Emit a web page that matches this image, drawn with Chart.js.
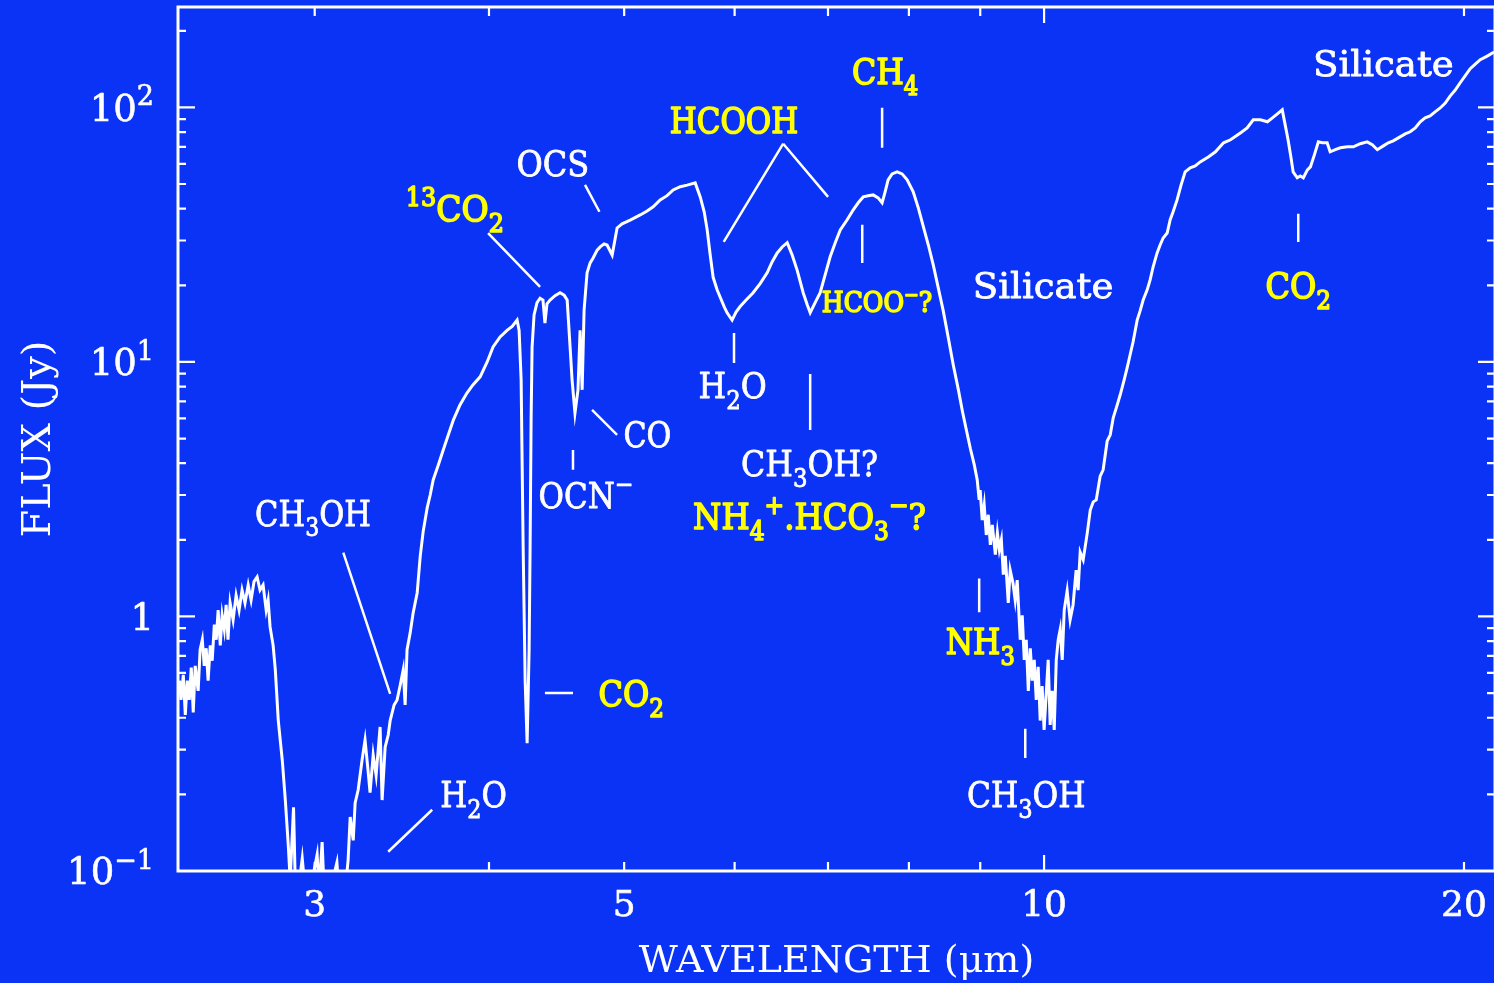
<!DOCTYPE html>
<html>
<head>
<meta charset="utf-8">
<script src="https://cdn.jsdelivr.net/npm/chart.js@4.4.0/dist/chart.umd.min.js"></script>
<style>
  html, body { margin: 0; padding: 0; background: #0b33f5; overflow: hidden; }
  #wrap { width: 1500px; height: 983px; }
</style>
</head>
<body>
<div id="wrap"><canvas id="spec" width="1500" height="983"></canvas></div>
<script>
// ── spectrum (wavelength in micron, flux in Jy) ──
const wavelength = [
  2.400, 2.406, 2.415, 2.423, 2.431, 2.439, 2.447, 2.455, 2.463, 2.475, 2.483, 2.492, 2.500, 2.508, 2.516,
  2.525, 2.533, 2.542, 2.550, 2.558, 2.567, 2.575, 2.584, 2.592, 2.600, 2.609, 2.622, 2.635, 2.648, 2.661,
  2.674, 2.688, 2.701, 2.714, 2.728, 2.741, 2.755, 2.769, 2.778, 2.787, 2.801, 2.811, 2.825, 2.844, 2.858,
  2.872, 2.881, 2.897, 2.905, 2.920, 2.939, 2.953, 2.978, 3.012, 3.022, 3.037, 3.047, 3.078, 3.112, 3.122,
  3.155, 3.170, 3.181, 3.197, 3.207, 3.223, 3.244, 3.260, 3.276, 3.287, 3.304, 3.320, 3.342, 3.353, 3.370,
  3.387, 3.398, 3.420, 3.437, 3.455, 3.472, 3.483, 3.494, 3.512, 3.529, 3.553, 3.571, 3.588, 3.612, 3.630,
  3.648, 3.679, 3.709, 3.740, 3.772, 3.813, 3.857, 3.895, 3.942, 3.988, 4.027, 4.074, 4.121, 4.156, 4.190,
  4.204, 4.218, 4.232, 4.246, 4.260, 4.274, 4.281, 4.288, 4.295, 4.309, 4.330, 4.352, 4.373, 4.387, 4.402,
  4.424, 4.461, 4.498, 4.528, 4.551, 4.573, 4.588, 4.610, 4.633, 4.649, 4.665, 4.680, 4.703, 4.727, 4.750,
  4.782, 4.806, 4.837, 4.861, 4.902, 4.942, 4.983, 5.050, 5.134, 5.193, 5.245, 5.306, 5.367, 5.421, 5.485,
  5.548, 5.622, 5.669, 5.706, 5.734, 5.763, 5.791, 5.829, 5.858, 5.897, 5.926, 5.975, 6.014, 6.055, 6.115,
  6.186, 6.258, 6.331, 6.383, 6.437, 6.490, 6.544, 6.598, 6.653, 6.719, 6.763, 6.797, 6.853, 6.910, 6.967,
  7.025, 7.084, 7.143, 7.225, 7.298, 7.358, 7.419, 7.480, 7.542, 7.604, 7.654, 7.692, 7.730, 7.781, 7.846,
  7.911, 7.977, 8.057, 8.125, 8.193, 8.261, 8.329, 8.398, 8.466, 8.536, 8.608, 8.681, 8.738, 8.796, 8.854,
  8.912, 8.955, 8.984, 8.999, 9.029, 9.059, 9.090, 9.120, 9.151, 9.181, 9.227, 9.258, 9.288, 9.319, 9.349,
  9.380, 9.426, 9.456, 9.500, 9.534, 9.566, 9.614, 9.646, 9.678, 9.710, 9.743, 9.775, 9.807, 9.839, 9.871,
  9.903, 9.936, 9.968, 10.000, 10.034, 10.068, 10.101, 10.135, 10.169, 10.203, 10.236, 10.270, 10.304, 10.338, 10.388,
  10.439, 10.490, 10.543, 10.578, 10.614, 10.667, 10.739, 10.792, 10.845, 10.899, 10.970, 11.024, 11.098, 11.154, 11.209,
  11.283, 11.339, 11.413, 11.469, 11.525, 11.583, 11.661, 11.719, 11.777, 11.855, 11.913, 11.971, 12.051, 12.111, 12.172,
  12.253, 12.314, 12.374, 12.455, 12.538, 12.622, 12.728, 12.833, 12.939, 13.114, 13.269, 13.448, 13.604, 13.827, 13.982,
  14.124, 14.291, 14.458, 14.578, 14.697, 14.816, 14.888, 14.959, 15.033, 15.085, 15.187, 15.264, 15.341, 15.444, 15.521,
  15.623, 15.726, 15.828, 15.956, 16.035, 16.172, 16.308, 16.499, 16.662, 16.853, 17.046, 17.190, 17.334, 17.507, 17.651,
  17.795, 17.997, 18.149, 18.300, 18.454, 18.606, 18.758, 18.911, 19.068, 19.229, 19.390, 19.552, 19.713, 19.874, 20.037,
  20.206, 20.375, 20.544, 20.780, 21.020
];
const flux = [
  0.56, 0.47, 0.59, 0.41, 0.56, 0.47, 0.63, 0.42, 0.64, 0.51, 0.74, 0.81, 0.64, 0.75, 0.56,
  0.77, 0.67, 0.93, 0.81, 1.06, 0.77, 1.01, 0.89, 1.11, 0.81, 1.13, 0.97, 1.21, 1.06, 1.27,
  1.13, 1.33, 1.16, 1.37, 1.43, 1.27, 1.33, 1.06, 1.16, 0.91, 0.77, 0.62, 0.39, 0.27, 0.19,
  0.126, 0.092, 0.178, 0.092, 0.084, 0.112, 0.084, 0.084, 0.116, 0.084, 0.130, 0.084, 0.084, 0.108, 0.084,
  0.084, 0.110, 0.163, 0.132, 0.185, 0.208, 0.273, 0.327, 0.249, 0.203, 0.286, 0.238, 0.368, 0.19, 0.307,
  0.342, 0.39, 0.449, 0.47, 0.538, 0.617, 0.449, 0.74, 0.862, 1.03, 1.24, 1.73, 2.15, 2.67, 3.0,
  3.44, 3.94, 4.51, 5.16, 5.92, 6.78, 7.55, 8.12, 8.74, 10.0, 11.46, 12.54, 13.3, 13.8, 14.6,
  13.3, 8.5, 1.88, 0.56, 0.318, 0.74, 1.88, 5.92, 11.46, 15.3, 17.1, 17.8, 17.5, 14.2, 16.9,
  17.5, 18.2, 18.7, 18.3, 17.5, 11.46, 8.5, 6.3, 7.77, 13.3, 7.77, 16.0, 22.4, 24.5, 25.6,
  27.5, 28.3, 29.1, 28.8, 26.3, 33.6, 34.9, 36.1, 37.8, 39.2, 40.7, 43.3, 45.0, 47.4, 48.8,
  49.5, 50.5, 44.5, 38.9, 33.1, 26.3, 21.5, 19.2, 18.0, 16.5, 15.6, 14.6, 15.7, 16.5, 17.5,
  18.7, 20.3, 22.4, 24.7, 26.8, 28.3, 29.4, 26.3, 22.9, 18.7, 16.8, 15.6, 17.1, 18.7, 22.0,
  25.9, 29.4, 33.0, 36.2, 39.6, 42.2, 44.5, 45.0, 45.3, 44.1, 42.2, 46.6, 51.9, 54.8, 55.8,
  54.8, 51.9, 46.6, 40.3, 34.0, 28.8, 24.0, 19.5, 15.9, 12.5, 9.73, 7.77, 6.42, 5.40, 4.57,
  3.94, 3.44, 2.87, 3.14, 2.39, 2.74, 2.09, 2.51, 1.91, 2.29, 1.75, 2.13, 1.83, 2.00, 1.46,
  1.73, 1.13, 1.52, 1.35, 1.16, 1.39, 0.81, 1.01, 0.675, 0.81, 0.51, 0.75, 0.56, 0.675, 0.47,
  0.634, 0.39, 0.533, 0.358, 0.49, 0.675, 0.375, 0.51, 0.358, 0.675, 0.81, 0.89, 0.675, 1.06, 1.26,
  0.97, 1.11, 1.52, 1.27, 1.79, 1.67, 2.13, 2.62, 2.82, 2.87, 3.56, 3.77, 4.89, 5.17, 6.03,
  6.78, 7.43, 8.50, 9.48, 10.65, 12.0, 14.6, 15.9, 17.5, 19.2, 21.0, 23.6, 26.8, 28.8, 30.7,
  32.1, 36.2, 38.9, 43.3, 49.6, 55.8, 57.9, 58.9, 61.1, 63.9, 66.9, 72.6, 74.6, 79.4, 83.0,
  89.4, 89.4, 87.8, 91.0, 94.3, 97.8, 85.4, 74.6, 63.3, 55.8, 52.9, 53.8, 52.9, 56.8, 58.4,
  65.1, 73.2, 72.6, 72.6, 66.9, 68.2, 69.4, 70.0, 70.0, 72.0, 73.2, 71.3, 68.2, 70.6, 72.6,
  73.9, 76.6, 78.7, 80.2, 83.0, 87.8, 91.0, 92.6, 96.0, 99.5, 104, 111, 117, 125, 133,
  142, 148, 154, 159, 165
];

// axis ticks
const xTickValues = [3, 4, 5, 6, 7, 8, 9, 10, 20];
const xTickLabels = [3, 5, 10, 20];
const yDecadeLabels = ['10^{−1}', '1', '10^{1}', '10^{2}'];   // 0.1, 1, 10, 100

// feature labels: text (_{sub} ^{sup}), wavelength, flux, colour key, size, squeeze
const featureLabels = [
  ['Silicate', 17.51, 149, 'w', 36, 1.03],
  ['CH_{4}', 7.693, 139, 'y', 36, 0.88],
  ['HCOOH', 5.994, 89.4, 'y', 36, 0.86],
  ['OCS', 4.445, 60.5, 'w', 36, 0.89],
  ['^{13}CO_{2}', 3.781, 40.3, 'y', 36, 0.92],
  ['Silicate', 9.984, 20, 'w', 36, 1.03],
  ['CO_{2}', 15.21, 20, 'y', 36, 0.89],
  ['HCOO^{−}?', 7.59, 17.1, 'y', 27, 0.93],
  ['H_{2}O', 5.98, 8.12, 'w', 36, 0.88],
  ['CO', 5.195, 5.21, 'w', 36, 0.84],
  ['CH_{3}OH?', 6.79, 4.0, 'w', 36, 0.88],
  ['OCN^{−}', 4.695, 3.0, 'w', 36, 0.86],
  ['NH_{4}^{+}.HCO_{3}^{−}?', 6.79, 2.48, 'y', 36, 0.9],
  ['CH_{3}OH', 2.992, 2.56, 'w', 36, 0.85],
  ['NH_{3}', 9.0, 0.8, 'y', 36, 0.87],
  ['CO_{2}', 5.058, 0.5, 'y', 36, 0.89],
  ['H_{2}O', 3.90, 0.2, 'w', 36, 0.86],
  ['CH_{3}OH', 9.71, 0.2, 'w', 36, 0.87]
];

// leader lines: wavelength1, flux1, wavelength2, flux2
const leaders = [
  [3.994, 32.1, 4.352, 19.7],
  [4.687, 49.6, 4.800, 38.9],
  [5.893, 29.6, 6.501, 72.0],
  [6.501, 72.0, 7.001, 44.5],
  [7.654, 99.6, 7.654, 69.4],
  [7.407, 34.6, 7.407, 24.5],
  [5.994, 13.0, 5.994, 9.9],
  [6.797, 8.97, 6.797, 5.40],
  [4.742, 6.48, 4.942, 5.17],
  [4.595, 4.51, 4.595, 3.77],
  [4.387, 0.5, 4.595, 0.5],
  [3.145, 1.78, 3.398, 0.496],
  [3.387, 0.119, 3.642, 0.174],
  [8.984, 1.41, 8.984, 1.04],
  [9.694, 0.362, 9.694, 0.278],
  [15.213, 38.2, 15.213, 29.6]
];

const FG = '#ffffff', YEL = '#ffff00';
const FONT = '"DejaVu Serif", "Liberation Serif", serif';

const isDecade = v => Math.abs(Math.log10(v) - Math.round(Math.log10(v))) < 1e-6;

// small rich-text writer: _{..} subscript, ^{..} superscript
function drawRich(ctx, str, x0, cy, size, color, opt) {
    const o = Object.assign({ align: 'center', squeeze: 1, stroke: 0.8 }, opt);
    const parts = [];
    str.replace(/([_^])\{([^}]*)\}|([^_^]+)/g, (m, mark, inner, plain) => {
        parts.push(plain ? { t: plain, k: 'n' } : { t: inner, k: mark });
    });
    const small = Math.round(size * 0.72);
    const fontOf = k => `${k === 'n' ? size : small}px ${FONT}`;
    let w = 0;
    parts.forEach(p => { ctx.font = fontOf(p.k); p.w = ctx.measureText(p.t).width; w += p.w; });
    w *= o.squeeze;
    let x = o.align === 'right' ? x0 - w : x0 - w / 2;
    const base = cy + size * 0.36;
    ctx.save();
    ctx.translate(x, base);
    ctx.scale(o.squeeze, 1);
    ctx.fillStyle = color;
    ctx.strokeStyle = color;
    ctx.lineWidth = o.stroke;
    ctx.lineJoin = 'round';
    ctx.textAlign = 'left';
    ctx.textBaseline = 'alphabetic';
    let cx = 0;
    parts.forEach(p => {
        ctx.font = fontOf(p.k);
        const dy = p.k === '_' ? size * 0.3 : p.k === '^' ? -size * 0.42 : 0;
        ctx.fillText(p.t, cx, dy);
        if (o.stroke > 0) ctx.strokeText(p.t, cx, dy);
        cx += p.w;
    });
    ctx.restore();
}

// ── frame, inward ticks, y labels, leaders and feature labels ──
const decor = {
    id: 'decor',
    afterDatasetsDraw(chart) {
        const ctx = chart.ctx, a = chart.chartArea, sx = chart.scales.x, sy = chart.scales.y;
        ctx.save();
        ctx.strokeStyle = FG;
        ctx.lineCap = 'butt';
        ctx.lineWidth = 2.2;
        ctx.beginPath();
        sy.ticks.forEach(t => {
            const py = sy.getPixelForValue(t.value), L = isDecade(t.value) ? 17 : 8;
            ctx.moveTo(a.left, py); ctx.lineTo(a.left + L, py);
            ctx.moveTo(a.right, py); ctx.lineTo(a.right - L, py);
        });
        sx.ticks.forEach(t => {
            const px = sx.getPixelForValue(t.value), L = isDecade(t.value) ? 16 : 9;
            ctx.moveTo(px, a.bottom); ctx.lineTo(px, a.bottom - L);
            ctx.moveTo(px, a.top); ctx.lineTo(px, a.top + L);
        });
        ctx.stroke();
        ctx.lineWidth = 3;
        ctx.strokeRect(a.left, a.top, a.right - a.left, a.bottom - a.top);

        sy.ticks.filter(t => isDecade(t.value)).forEach(t => {
            const lab = yDecadeLabels[Math.round(Math.log10(t.value)) + 1];
            drawRich(ctx, lab, a.left - 24, sy.getPixelForValue(t.value), 37, FG, { align: 'right', stroke: 0.6 });
        });

        ctx.lineWidth = 2.5;
        ctx.beginPath();
        leaders.forEach(([w1, f1, w2, f2]) => {
            ctx.moveTo(sx.getPixelForValue(w1), sy.getPixelForValue(f1));
            ctx.lineTo(sx.getPixelForValue(w2), sy.getPixelForValue(f2));
        });
        ctx.stroke();

        featureLabels.forEach(([txt, w, f, c, size, sq]) => {
            drawRich(ctx, txt, sx.getPixelForValue(w), sy.getPixelForValue(f), size,
                c === 'y' ? YEL : FG, { squeeze: sq, stroke: c === 'y' ? 1.6 : 0.8 });
        });
        ctx.restore();
    }
};

new Chart(document.getElementById('spec'), {
    type: 'line',
    data: {
        datasets: [{
            data: wavelength.map((w, i) => ({ x: w, y: flux[i] })),
            borderColor: FG,
            borderWidth: 3,
            pointRadius: 0,
            tension: 0,
            fill: false
        }]
    },
    options: {
        responsive: false,
        animation: false,
        events: [],
        layout: { padding: { top: 7, right: 5, left: 0, bottom: 0 } },
        plugins: { legend: { display: false }, tooltip: { enabled: false } },
        scales: {
            x: {
                type: 'logarithmic',
                min: 2.394,
                max: 21.05,
                afterBuildTicks: s => { s.ticks = xTickValues.map(v => ({ value: v })); },
                afterFit: s => { s.height = 112; s.paddingLeft = 0; s.paddingRight = 0; },
                grid: { display: false, drawTicks: false },
                border: { display: false },
                ticks: {
                    color: FG,
                    autoSkip: false,
                    maxRotation: 0,
                    padding: 14,
                    textStrokeColor: FG,
                    textStrokeWidth: 0.6,
                    font: { family: FONT, size: 36 },
                    callback: v => xTickLabels.includes(v) ? String(v) : ''
                },
                title: {
                    display: true,
                    text: 'WAVELENGTH (μm)',
                    color: FG,
                    font: { family: FONT, size: 38, lineHeight: 1.05 },
                    padding: { top: 1, bottom: 1 }
                }
            },
            y: {
                type: 'logarithmic',
                min: 0.1,
                max: 248,
                afterBuildTicks: s => {
                    const t = [];
                    [0.1, 1, 10, 100].forEach(d => {
                        for (let m = 1; m <= 9; m++) if (m * d <= 248) t.push({ value: +(m * d).toPrecision(3) });
                    });
                    s.ticks = t;
                },
                afterFit: s => { s.width = 178; s.paddingTop = 0; s.paddingBottom = 0; },
                grid: { display: false, drawTicks: false },
                border: { display: false },
                ticks: { display: false },
                title: {
                    display: true,
                    text: 'FLUX (Jy)',
                    color: FG,
                    font: { family: FONT, size: 40 },
                    padding: { top: 16, bottom: 16 }
                }
            }
        }
    },
    plugins: [decor]
});
</script>
</body>
</html>
